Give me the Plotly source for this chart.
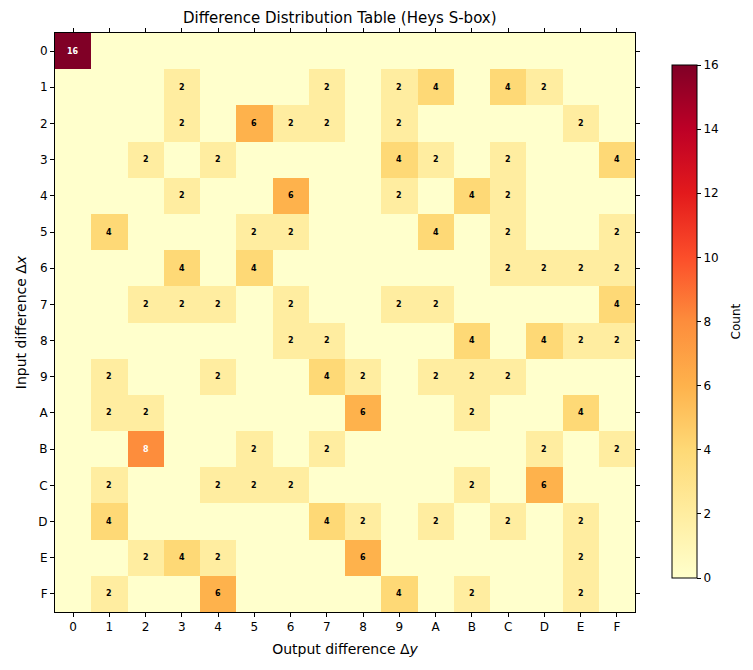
import plotly.graph_objects as go

hex_labels = ["0", "1", "2", "3", "4", "5", "6", "7", "8", "9", "A", "B", "C", "D", "E", "F"]

# Difference distribution table rows (input difference 0..F), columns = output difference 0..F
row_0 = [16, 0, 0, 0, 0, 0, 0, 0, 0, 0, 0, 0, 0, 0, 0, 0]
row_1 = [0, 0, 0, 2, 0, 0, 0, 2, 0, 2, 4, 0, 4, 2, 0, 0]
row_2 = [0, 0, 0, 2, 0, 6, 2, 2, 0, 2, 0, 0, 0, 0, 2, 0]
row_3 = [0, 0, 2, 0, 2, 0, 0, 0, 0, 4, 2, 0, 2, 0, 0, 4]
row_4 = [0, 0, 0, 2, 0, 0, 6, 0, 0, 2, 0, 4, 2, 0, 0, 0]
row_5 = [0, 4, 0, 0, 0, 2, 2, 0, 0, 0, 4, 0, 2, 0, 0, 2]
row_6 = [0, 0, 0, 4, 0, 4, 0, 0, 0, 0, 0, 0, 2, 2, 2, 2]
row_7 = [0, 0, 2, 2, 2, 0, 2, 0, 0, 2, 2, 0, 0, 0, 0, 4]
row_8 = [0, 0, 0, 0, 0, 0, 2, 2, 0, 0, 0, 4, 0, 4, 2, 2]
row_9 = [0, 2, 0, 0, 2, 0, 0, 4, 2, 0, 2, 2, 2, 0, 0, 0]
row_A = [0, 2, 2, 0, 0, 0, 0, 0, 6, 0, 0, 2, 0, 0, 4, 0]
row_B = [0, 0, 8, 0, 0, 2, 0, 2, 0, 0, 0, 0, 0, 2, 0, 2]
row_C = [0, 2, 0, 0, 2, 2, 2, 0, 0, 0, 0, 2, 0, 6, 0, 0]
row_D = [0, 4, 0, 0, 0, 0, 0, 4, 2, 0, 2, 0, 2, 0, 2, 0]
row_E = [0, 0, 2, 4, 2, 0, 0, 0, 6, 0, 0, 0, 0, 0, 2, 0]
row_F = [0, 2, 0, 0, 6, 0, 0, 0, 0, 4, 0, 2, 0, 0, 2, 0]

ddt = [row_0, row_1, row_2, row_3, row_4, row_5, row_6, row_7,
       row_8, row_9, row_A, row_B, row_C, row_D, row_E, row_F]

ylorrd = ["#ffffcc", "#ffeda0", "#fed976", "#feb24c", "#fd8d3c",
          "#fc4e2a", "#e31a1c", "#bd0026", "#800026"]
colorscale = [[i / (len(ylorrd) - 1), c] for i, c in enumerate(ylorrd)]

fig = go.Figure(go.Heatmap(
    z=ddt, x=hex_labels, y=hex_labels,
    colorscale=colorscale, zmin=0, zmax=16,
    xgap=0, ygap=0,
    hovertemplate="Δx=%{y}, Δy=%{x}: %{z}<extra></extra>",
    colorbar=dict(
        x=1.0638, xanchor="left", y=0.5017, yanchor="middle", len=0.886,
        xpad=0, ypad=0,
        thickness=25, outlinewidth=1, outlinecolor="black",
        tickvals=[0, 2, 4, 6, 8, 10, 12, 14, 16],
        ticks="outside", ticklen=4, tickcolor="black",
        tickfont=dict(size=12, color="black"),
    ),
))

annotations = []
for i, row in enumerate(ddt):
    for j, v in enumerate(row):
        if v > 0:
            annotations.append(dict(
                x=hex_labels[j], y=hex_labels[i], text=f"<b>{v}</b>",
                showarrow=False,
                font=dict(size=8, color="white" if v > 7 else "black",
                          family="DejaVu Sans"),
            ))

# colorbar label
annotations.append(dict(
    x=1.174, y=0.5017, xref="paper", yref="paper", text="Count",
    textangle=-90, showarrow=False, xanchor="center", yanchor="middle",
    font=dict(size=12, color="black"),
))

fig.update_layout(
    width=753, height=670,
    margin=dict(l=55, r=118, t=33, b=58),
    paper_bgcolor="white", plot_bgcolor="white",
    font=dict(family="DejaVu Sans", color="black"),
    title=dict(text="Difference Distribution Table (Heys S-box)",
               x=0.4512, xanchor="center", y=0.973, yanchor="middle",
               font=dict(size=15, color="black")),
    annotations=annotations,
)
fig.update_xaxes(
    title=dict(text="Output difference Δ<i>y</i>", font=dict(size=14), standoff=10),
    showline=True, linecolor="black", linewidth=1, mirror="all",
    ticks="outside", ticklen=4, tickcolor="black", layer="above traces",
    tickfont=dict(size=12), showgrid=False, zeroline=False,
)
fig.update_yaxes(
    title=dict(text="Input difference Δ<i>x</i>", font=dict(size=14), standoff=8),
    autorange="reversed",
    showline=True, linecolor="black", linewidth=1, mirror="all",
    ticks="outside", ticklen=4, tickcolor="black", layer="above traces",
    tickfont=dict(size=12), showgrid=False, zeroline=False,
)

fig.write_html("out.html")
